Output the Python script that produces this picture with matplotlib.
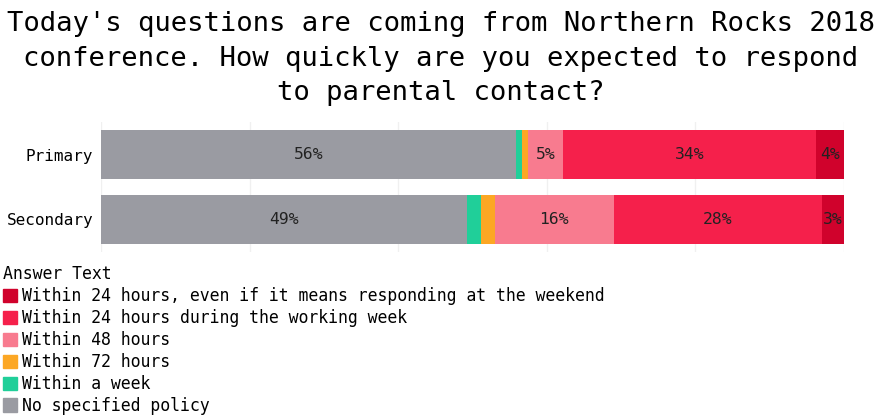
import matplotlib.pyplot as plt
from matplotlib.patches import Patch

# Northern Rocks 2018 - how quickly are you expected to respond to parental contact?
schools = ['Primary', 'Secondary']
answers = ['No specified policy', 'Within a week', 'Within 72 hours', 'Within 48 hours',
           'Within 24 hours during the working week',
           'Within 24 hours, even if it means responding at the weekend']
colors = ['#9a9ba2', '#20cf99', '#fca724', '#f87b8f', '#f5204b', '#d0022c']

primary = [55.9, 0.8, 0.8, 4.7, 34.0, 3.8]
secondary = [49.2, 1.9, 1.9, 16.0, 28.0, 3.0]
values = [primary, secondary]

plt.rcParams['font.family'] = 'DejaVu Sans Mono'

fig = plt.figure(figsize=(8.81, 4.16), dpi=100)
ax = fig.add_axes([101 / 881, 1 - 252 / 416, 743 / 881, 130 / 416])

for i, row in enumerate(values):
    left = 0
    for j, v in enumerate(row):
        ax.barh(i, v, left=left, height=0.76, color=colors[j], zorder=2)
        if v >= 2.5:
            ax.text(left + v / 2, i, f'{round(v)}%', ha='center', va='center',
                    fontsize=11.8, color='#222222', zorder=3)
        left += v

ax.set_xlim(0, 100)
ax.set_ylim(1.51, -0.51)
ax.set_yticks(range(len(schools)))
ax.set_yticklabels(schools, fontsize=11.5)
ax.set_xticks([0, 20, 40, 60, 80, 100])
ax.tick_params(axis='x', bottom=False, labelbottom=False)
ax.tick_params(axis='y', left=False, pad=2)
ax.grid(axis='x', color='#f0f0f0', linewidth=1, zorder=0)
for s in ax.spines.values():
    s.set_visible(False)

fig.text(0.5, 1 - 11 / 416,
         "Today's questions are coming from Northern Rocks 2018\n"
         "conference. How quickly are you expected to respond\n"
         "to parental contact?",
         ha='center', va='top', fontsize=19.6, linespacing=1.43)

handles = [Patch(color=colors[j], label=answers[j]) for j in range(len(answers) - 1, -1, -1)]
leg = fig.legend(handles=handles, loc='upper left', bbox_to_anchor=(0.003, 1 - 265 / 416),
                 title='Answer Text', frameon=False, fontsize=11.9, title_fontsize=11.9,
                 handlelength=0.85, handleheight=0.85, handletextpad=0.3,
                 labelspacing=0.24, borderaxespad=0, borderpad=0)
leg._legend_box.align = 'left'

fig.savefig('out.png', dpi=100)
